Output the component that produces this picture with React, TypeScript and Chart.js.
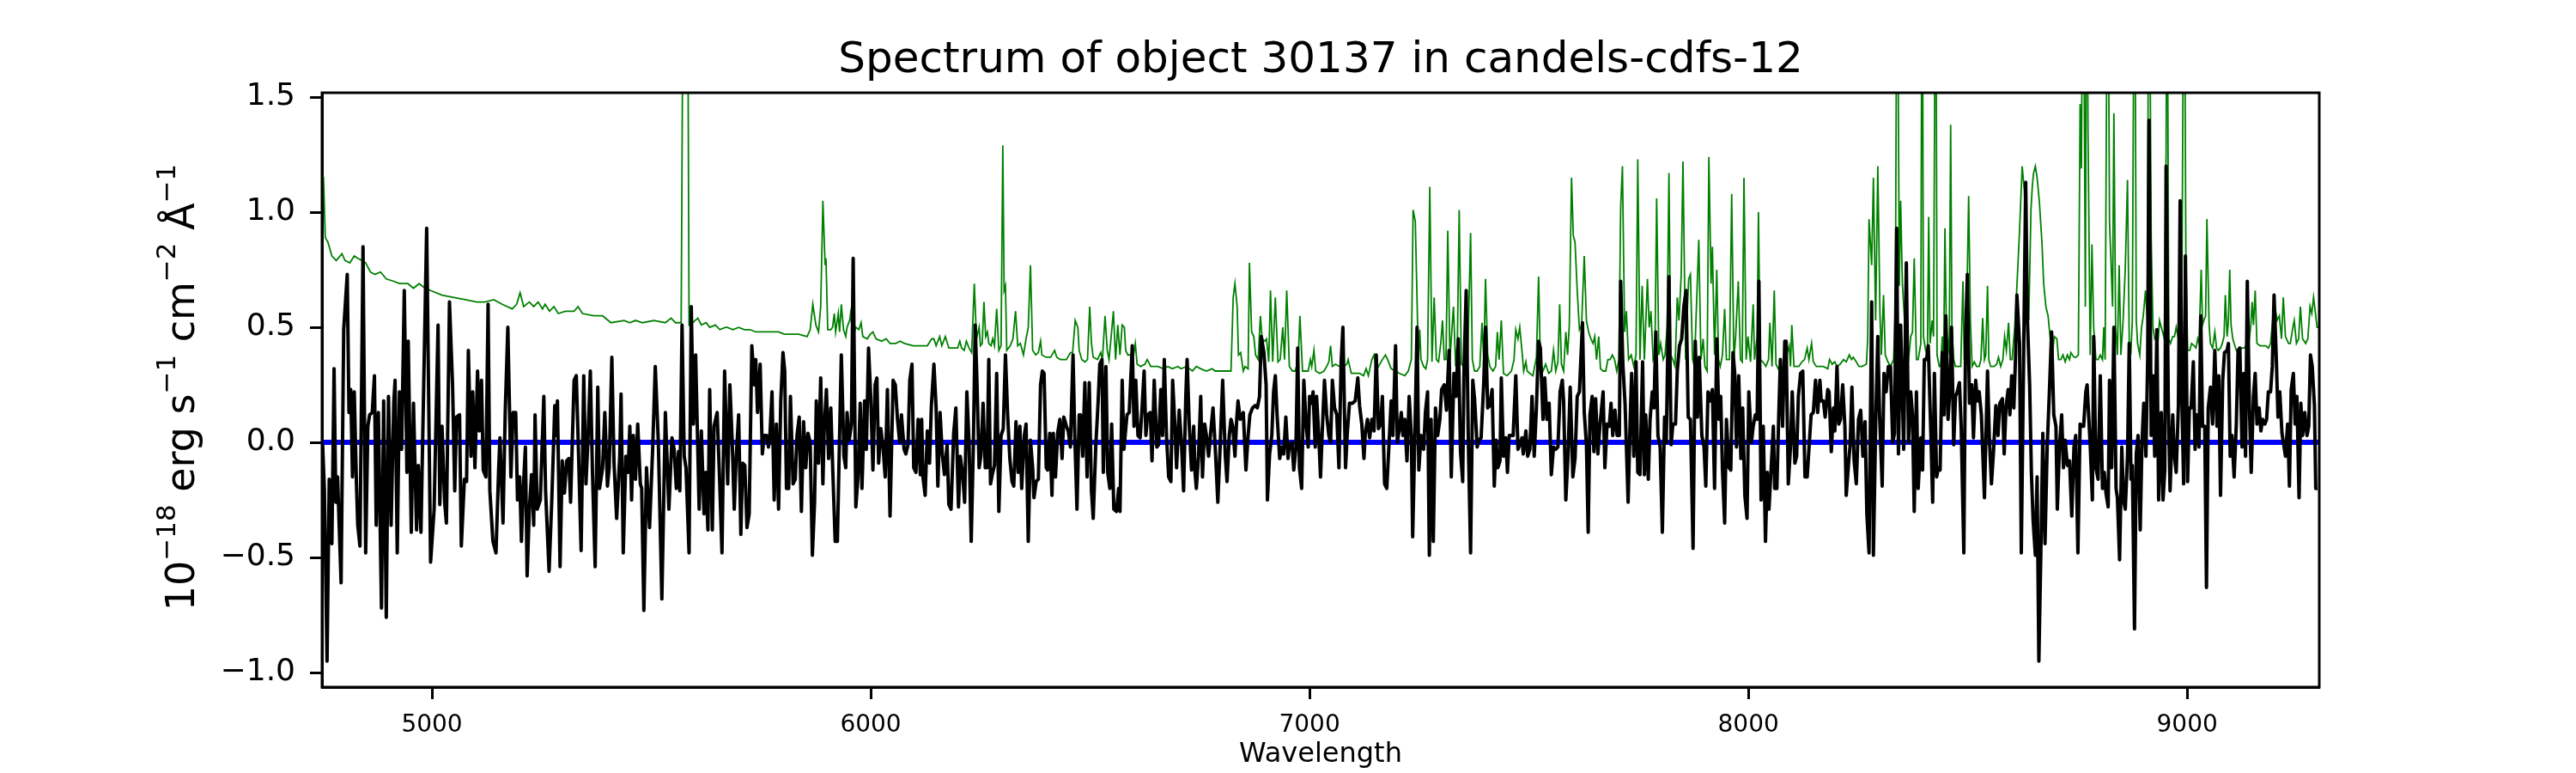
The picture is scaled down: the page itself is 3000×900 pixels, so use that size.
import React, { useEffect, useRef } from 'react';
import { Chart, registerables } from 'chart.js';

Chart.register(...registerables);

const TITLE = 'Spectrum of object 30137 in candels-cdfs-12';
const X_LABEL = 'Wavelength';
// y label pieces: [text, superscript?]
const Y_LABEL_PARTS: [string, boolean][] = [
    ['10', false], ['\u221218', true], [' erg s', false], ['\u22121', true],
    [' cm', false], ['\u22122', true], [' \u00c5', false], ['\u22121', true],
];

const xTicks = [5000, 6000, 7000, 8000, 9000];
const yTicks = [-1.0, -0.5, 0.0, 0.5, 1.0, 1.5];

const X_MIN = 4749.5;
const X_MAX = 9301;
const Y_MIN = -1.063;
const Y_MAX = 1.519;

// [wavelength, flux]
const zeroLevel: [number, number][] = [[4749.5, 0], [9301, 0]];

const fluxSpectrum: [number, number][] = [
    [4751,-0.01],[4755,-0.21],[4761,-0.95],[4766,-0.16],[4772,-0.44],[4777,0.32],[4781,-0.26],[4785,-0.15],[4793,-0.61],[4799,0.49],
    [4807,0.73],[4811,0.13],[4815,0.23],[4819,-0.15],[4823,0.22],[4828,-0.18],[4831,-0.36],[4836,-0.45],[4843,0.85],[4849,-0.48],
    [4854,0.07],[4858,0.12],[4864,0.13],[4869,0.29],[4873,-0.36],[4878,0.13],[4885,-0.72],[4890,0.18],[4896,-0.76],[4901,0.20],
    [4907,-0.36],[4913,0.17],[4916,0.27],[4921,-0.48],[4926,0.22],[4931,-0.03],[4937,0.66],[4943,-0.13],[4946,0.44],[4953,-0.39],
    [4958,0.17],[4965,-0.38],[4969,-0.10],[4975,-0.39],[4988,0.93],[4997,-0.52],[5005,-0.29],[5014,0.51],[5018,-0.27],[5023,0.07],
    [5029,-0.26],[5033,-0.35],[5040,0.61],[5047,0.25],[5052,-0.21],[5056,0.11],[5063,0.12],[5067,-0.45],[5074,-0.16],[5079,-0.17],
    [5083,0.40],[5089,-0.06],[5093,0.22],[5098,-0.11],[5104,0.31],[5108,0.05],[5113,0.27],[5117,-0.12],[5123,-0.15],[5128,0.60],
    [5132,-0.21],[5139,-0.43],[5146,-0.48],[5152,-0.12],[5155,0.02],[5162,-0.35],[5167,0.13],[5173,0.50],[5180,-0.15],[5185,0.13],
    [5191,0.13],[5195,-0.25],[5200,-0.15],[5204,-0.43],[5208,-0.21],[5213,-0.02],[5217,-0.58],[5222,-0.29],[5227,-0.14],[5232,-0.36],
    [5235,0.12],[5240,-0.29],[5247,-0.25],[5255,0.20],[5259,-0.21],[5267,-0.56],[5273,-0.26],[5280,0.16],[5283,0.03],[5286,0.18],
    [5292,-0.54],[5297,-0.08],[5302,-0.22],[5307,-0.08],[5312,-0.07],[5316,-0.26],[5324,0.27],[5329,0.29],[5333,0.03],[5340,-0.47],
    [5346,0.29],[5351,-0.18],[5356,0.03],[5361,0.31],[5366,-0.14],[5372,-0.54],[5378,0.24],[5382,-0.20],[5389,-0.11],[5394,0.13],
    [5400,-0.19],[5404,-0.11],[5410,0.37],[5415,-0.09],[5421,-0.33],[5428,-0.06],[5431,0.21],[5436,-0.48],[5442,-0.06],[5447,-0.13],
    [5451,0.07],[5455,-0.25],[5459,0.03],[5464,-0.16],[5469,0.08],[5475,-0.18],[5478,-0.20],[5483,-0.73],[5489,-0.11],[5496,-0.37],
    [5503,-0.03],[5509,0.33],[5516,0.00],[5524,-0.68],[5532,0.13],[5540,-0.29],[5547,0.02],[5552,-0.03],[5557,-0.20],[5562,-0.04],
    [5565,-0.21],[5570,0.51],[5575,-0.06],[5579,-0.11],[5586,-0.48],[5591,0.59],[5596,0.08],[5601,0.38],[5609,-0.29],[5614,0.05],
    [5620,-0.31],[5624,-0.13],[5629,-0.38],[5633,0.23],[5639,-0.38],[5643,0.07],[5650,0.13],[5655,-0.13],[5661,-0.48],[5667,0.31],
    [5674,-0.18],[5679,0.25],[5684,0.02],[5689,-0.29],[5693,-0.08],[5699,0.12],[5704,-0.40],[5708,-0.09],[5713,-0.10],[5718,-0.37],
    [5723,-0.31],[5729,0.42],[5735,0.25],[5738,0.36],[5742,0.13],[5748,0.34],[5753,-0.05],[5757,0.03],[5763,0.03],[5767,-0.02],
    [5770,0.02],[5775,0.22],[5780,-0.25],[5785,0.08],[5790,-0.29],[5795,0.18],[5800,0.39],[5804,0.31],[5808,-0.20],[5813,-0.20],
    [5817,0.20],[5823,-0.18],[5828,-0.16],[5832,0.03],[5837,0.11],[5842,-0.30],[5847,0.09],[5852,-0.11],[5857,0.04],[5862,0.00],
    [5867,-0.49],[5872,-0.26],[5876,0.18],[5881,-0.09],[5886,0.28],[5891,-0.18],[5894,0.06],[5899,0.23],[5904,-0.07],[5909,0.15],
    [5914,-0.15],[5919,-0.43],[5924,-0.43],[5929,0.03],[5933,0.38],[5939,-0.06],[5943,-0.11],[5946,0.13],[5951,0.01],[5956,0.08],
    [5960,0.80],[5966,-0.28],[5971,-0.15],[5976,0.17],[5980,-0.20],[5986,0.18],[5990,-0.03],[5995,0.41],[6000,0.20],[6005,-0.12],
    [6010,0.25],[6014,0.28],[6018,-0.09],[6023,0.06],[6028,-0.02],[6033,-0.15],[6038,0.23],[6044,-0.32],[6051,0.27],[6056,0.25],
    [6061,0.10],[6066,0.00],[6070,0.12],[6076,-0.03],[6080,-0.05],[6085,-0.01],[6089,0.27],[6094,0.34],[6098,-0.11],[6103,-0.13],
    [6108,0.10],[6113,-0.14],[6116,0.10],[6119,-0.15],[6124,-0.23],[6129,0.05],[6134,-0.09],[6138,0.15],[6144,0.34],[6149,0.15],
    [6153,-0.19],[6158,0.13],[6163,-0.05],[6168,-0.14],[6174,-0.01],[6178,-0.27],[6183,-0.29],[6189,0.04],[6194,0.15],[6200,-0.28],
    [6204,-0.06],[6209,-0.13],[6214,-0.26],[6219,0.22],[6224,0.00],[6229,-0.43],[6234,0.00],[6238,0.51],[6242,0.27],[6247,-0.11],
    [6251,-0.06],[6256,0.17],[6261,-0.11],[6265,-0.11],[6269,0.36],[6273,-0.18],[6277,-0.14],[6282,-0.10],[6287,0.30],[6292,-0.30],
    [6297,0.03],[6302,0.06],[6307,0.38],[6312,0.12],[6317,-0.07],[6322,-0.17],[6326,-0.19],[6331,0.09],[6336,-0.13],[6340,0.07],
    [6344,-0.20],[6350,0.03],[6354,0.08],[6359,-0.43],[6364,0.01],[6369,-0.11],[6372,-0.24],[6377,-0.17],[6382,-0.16],[6387,0.25],
    [6391,0.31],[6395,0.30],[6400,-0.11],[6403,-0.12],[6408,0.04],[6413,-0.23],[6416,0.04],[6421,-0.15],[6426,0.04],[6431,0.10],
    [6436,-0.07],[6440,0.11],[6446,0.07],[6450,0.05],[6455,-0.02],[6461,0.38],[6465,0.03],[6470,-0.29],[6475,0.12],[6478,0.12],
    [6483,-0.06],[6488,0.26],[6493,-0.15],[6498,0.26],[6503,-0.21],[6507,-0.33],[6513,-0.01],[6518,0.17],[6522,0.34],[6527,0.36],
    [6530,-0.13],[6536,0.33],[6540,-0.13],[6545,-0.20],[6549,0.08],[6554,-0.29],[6560,-0.30],[6565,-0.20],[6568,-0.30],[6573,0.27],
    [6577,-0.03],[6584,0.12],[6589,0.13],[6596,0.42],[6600,0.07],[6604,0.27],[6609,0.03],[6614,0.02],[6618,0.14],[6623,0.31],
    [6627,0.03],[6631,0.12],[6637,0.13],[6641,-0.08],[6646,0.27],[6652,-0.02],[6656,-0.01],[6661,0.23],[6665,0.03],[6669,0.36],
    [6674,0.03],[6679,-0.15],[6684,-0.17],[6688,0.27],[6693,0.08],[6697,-0.11],[6703,0.14],[6708,0.00],[6713,-0.21],[6718,0.20],
    [6721,0.36],[6726,0.07],[6731,-0.12],[6736,0.07],[6739,-0.13],[6742,-0.20],[6747,-0.06],[6752,0.20],[6756,-0.15],[6761,0.08],
    [6765,0.03],[6770,-0.06],[6775,0.05],[6780,0.15],[6785,-0.02],[6791,-0.26],[6796,-0.03],[6802,0.27],[6808,-0.06],[6812,-0.17],
    [6817,0.03],[6821,0.10],[6825,0.07],[6830,-0.06],[6834,0.10],[6837,0.18],[6842,0.10],[6849,0.13],[6855,-0.12],[6860,0.03],
    [6864,0.12],[6870,0.15],[6876,0.16],[6881,0.15],[6886,0.20],[6890,0.46],[6896,0.39],[6901,0.25],[6904,-0.25],[6909,-0.05],
    [6914,0.03],[6918,0.22],[6922,0.29],[6926,0.12],[6932,-0.07],[6937,-0.02],[6941,-0.05],[6946,0.11],[6951,-0.07],[6954,-0.01],
    [6960,0.00],[6964,-0.12],[6969,-0.02],[6973,0.41],[6977,-0.11],[6982,-0.20],[6987,0.27],[6992,0.08],[6997,-0.02],[7000,0.20],
    [7005,0.17],[7008,0.22],[7013,-0.02],[7016,0.20],[7021,0.03],[7025,-0.15],[7029,0.05],[7034,0.27],[7039,0.12],[7044,0.03],
    [7048,0.00],[7052,0.27],[7057,0.15],[7062,0.12],[7067,-0.11],[7072,0.35],[7076,0.50],[7082,-0.11],[7086,0.04],[7091,0.17],
    [7098,0.17],[7104,0.18],[7110,0.28],[7114,0.16],[7119,0.08],[7124,-0.07],[7127,0.04],[7132,0.10],[7137,0.02],[7142,0.10],
    [7147,0.05],[7152,0.38],[7157,0.06],[7162,0.08],[7166,0.20],[7171,-0.18],[7176,-0.20],[7181,-0.01],[7186,0.18],[7190,0.03],
    [7196,0.42],[7200,0.00],[7205,0.06],[7209,0.13],[7213,0.03],[7217,0.10],[7222,-0.08],[7227,0.20],[7232,0.03],[7235,-0.41],
    [7240,0.03],[7245,0.50],[7249,-0.12],[7254,0.03],[7260,-0.03],[7264,0.13],[7269,0.22],[7273,-0.49],[7277,0.10],[7282,-0.43],
    [7287,0.15],[7292,0.03],[7297,0.10],[7301,0.23],[7307,0.25],[7312,0.14],[7318,0.40],[7323,-0.15],[7329,0.30],[7334,0.20],
    [7339,0.45],[7344,-0.04],[7349,-0.17],[7352,0.32],[7357,0.66],[7362,-0.01],[7367,-0.48],[7372,0.27],[7376,0.19],[7382,-0.02],
    [7386,0.01],[7391,0.02],[7397,0.26],[7401,0.50],[7406,0.15],[7411,0.16],[7416,0.23],[7421,-0.19],[7425,0.01],[7429,-0.11],
    [7434,-0.08],[7437,0.28],[7442,-0.06],[7447,0.02],[7451,-0.13],[7455,0.03],[7460,0.03],[7464,0.03],[7470,0.29],[7475,-0.03],
    [7479,-0.01],[7484,0.02],[7487,-0.05],[7493,0.05],[7497,-0.06],[7502,-0.03],[7507,0.20],[7512,-0.06],[7517,0.15],[7522,0.44],
    [7526,0.41],[7532,0.10],[7536,0.28],[7541,0.10],[7546,0.17],[7551,-0.14],[7556,-0.02],[7561,-0.03],[7566,-0.02],[7571,0.22],
    [7576,0.27],[7579,0.18],[7584,-0.25],[7589,-0.06],[7594,0.24],[7600,-0.15],[7605,-0.07],[7610,0.20],[7615,0.22],[7622,0.52],
    [7626,0.13],[7631,-0.01],[7635,-0.39],[7639,0.12],[7644,0.20],[7648,-0.04],[7652,0.19],[7657,-0.05],[7662,0.08],[7669,0.22],
    [7673,-0.11],[7678,0.08],[7683,0.07],[7687,0.17],[7691,0.03],[7696,0.14],[7701,0.03],[7706,0.03],[7709,0.70],[7714,0.34],
    [7719,0.17],[7726,-0.26],[7731,0.12],[7734,0.30],[7739,-0.06],[7744,0.35],[7748,-0.13],[7753,-0.14],[7759,0.35],[7763,-0.14],
    [7766,0.12],[7772,-0.16],[7776,0.10],[7781,0.22],[7785,0.15],[7789,0.48],[7794,0.03],[7799,-0.02],[7804,-0.39],[7809,0.11],
    [7813,0.00],[7819,0.72],[7824,-0.01],[7828,0.08],[7834,0.08],[7838,0.31],[7843,0.42],[7848,0.45],[7853,0.59],[7858,0.66],
    [7863,0.11],[7868,0.10],[7874,-0.46],[7879,0.44],[7884,0.11],[7888,0.37],[7894,0.03],[7899,-0.02],[7903,-0.19],[7908,0.22],
    [7913,0.18],[7918,0.23],[7923,-0.20],[7928,0.45],[7933,0.10],[7937,0.20],[7941,-0.12],[7946,-0.35],[7950,0.10],[7956,-0.11],
    [7960,-0.12],[7965,0.39],[7969,0.30],[7973,-0.02],[7978,0.29],[7983,-0.07],[7987,0.15],[7992,-0.23],[7997,-0.33],[8001,0.22],
    [8007,0.00],[8011,0.07],[8016,0.12],[8020,0.10],[8024,0.70],[8029,-0.25],[8034,0.07],[8039,-0.43],[8043,-0.13],[8047,-0.29],
    [8052,-0.11],[8057,0.07],[8060,-0.20],[8065,-0.20],[8069,0.10],[8073,0.36],[8078,0.07],[8083,0.44],[8086,0.44],[8091,-0.18],
    [8096,-0.02],[8100,0.22],[8106,-0.09],[8110,-0.06],[8114,0.20],[8119,0.30],[8124,0.31],[8129,-0.15],[8134,-0.15],[8138,-0.03],
    [8143,0.12],[8148,0.13],[8153,0.27],[8158,0.13],[8163,0.27],[8166,0.18],[8171,0.18],[8175,0.11],[8181,0.23],[8184,0.22],
    [8189,-0.04],[8194,0.15],[8197,0.05],[8202,0.33],[8206,0.08],[8210,0.10],[8215,0.25],[8220,0.07],[8223,-0.23],[8228,-0.10],
    [8232,-0.01],[8236,0.24],[8241,-0.08],[8246,-0.18],[8251,0.10],[8256,0.14],[8261,-0.06],[8266,0.09],[8270,-0.31],[8275,-0.48],
    [8281,0.61],[8285,-0.49],[8290,0.07],[8295,0.46],[8299,0.12],[8305,-0.19],[8309,0.30],[8314,0.22],[8319,0.33],[8324,0.33],
    [8329,0.00],[8333,0.04],[8338,0.93],[8342,-0.05],[8347,0.51],[8354,-0.03],[8360,0.78],[8365,0.00],[8370,0.22],[8374,0.12],
    [8378,-0.30],[8383,0.22],[8387,-0.20],[8393,0.02],[8397,-0.12],[8401,0.36],[8406,0.36],[8410,0.42],[8416,0.03],[8420,-0.26],
    [8424,0.30],[8429,-0.15],[8433,-0.11],[8437,-0.12],[8442,0.39],[8446,0.12],[8450,0.55],[8455,0.10],[8459,0.22],[8463,0.50],
    [8468,-0.01],[8472,0.20],[8476,0.22],[8481,0.26],[8485,0.07],[8491,-0.48],[8495,0.45],[8499,0.73],[8504,0.17],[8509,0.25],
    [8513,0.02],[8518,0.27],[8522,0.18],[8526,0.22],[8531,0.12],[8538,-0.24],[8545,0.31],[8549,0.03],[8554,-0.18],[8559,-0.03],
    [8564,0.16],[8569,0.03],[8573,0.17],[8579,0.19],[8583,-0.05],[8587,0.15],[8592,0.23],[8596,0.12],[8600,0.29],[8605,0.15],
    [8609,0.38],[8612,0.64],[8618,0.43],[8622,-0.48],[8628,0.48],[8632,1.13],[8636,0.53],[8641,0.25],[8645,-0.13],[8649,-0.34],
    [8654,-0.49],[8658,-0.15],[8662,-0.95],[8667,-0.43],[8671,0.04],[8676,-0.44],[8681,-0.02],[8686,0.22],[8691,0.48],[8696,0.12],
    [8701,0.07],[8704,-0.29],[8709,-0.02],[8714,0.12],[8718,-0.11],[8722,0.01],[8727,-0.10],[8732,-0.08],[8737,-0.32],[8742,-0.02],
    [8746,0.03],[8751,-0.48],[8756,0.08],[8760,0.07],[8764,0.07],[8769,0.22],[8772,0.25],[8776,0.10],[8779,-0.01],[8784,-0.25],
    [8787,0.46],[8792,-0.11],[8797,-0.16],[8802,0.29],[8807,-0.20],[8811,-0.13],[8815,-0.22],[8820,-0.28],[8823,0.27],[8828,-0.11],
    [8833,0.50],[8838,-0.20],[8841,-0.24],[8846,-0.51],[8851,-0.02],[8855,-0.25],[8859,-0.29],[8864,-0.06],[8868,0.43],[8872,-0.16],
    [8875,-0.10],[8880,-0.81],[8884,-0.05],[8888,0.03],[8893,-0.38],[8897,0.00],[8901,0.17],[8906,-0.06],[8910,0.36],[8913,1.40],
    [8918,0.03],[8922,0.29],[8926,-0.06],[8931,0.49],[8935,-0.25],[8941,0.13],[8945,-0.25],[8949,-0.12],[8952,1.20],[8957,0.17],
    [8961,-0.21],[8967,0.12],[8971,-0.06],[8975,-0.13],[8980,0.16],[8984,1.05],[8988,0.17],[8992,-0.18],[8996,0.81],[9001,-0.17],
    [9005,0.15],[9009,0.15],[9014,0.35],[9018,-0.03],[9022,0.12],[9027,-0.02],[9031,0.55],[9035,0.07],[9040,0.07],[9044,-0.63],
    [9048,0.15],[9053,0.24],[9058,0.08],[9063,0.40],[9068,0.07],[9072,0.29],[9076,-0.23],[9081,0.27],[9085,0.39],[9091,0.40],
    [9094,0.43],[9098,-0.06],[9102,0.03],[9107,-0.15],[9112,0.08],[9116,0.40],[9120,0.41],[9125,-0.02],[9129,0.30],[9133,-0.06],
    [9137,0.70],[9142,0.14],[9146,-0.13],[9151,0.20],[9155,0.30],[9159,0.08],[9164,0.15],[9168,0.05],[9172,0.10],[9177,0.08],
    [9181,0.10],[9185,0.22],[9190,0.22],[9194,0.33],[9198,0.64],[9203,0.37],[9207,0.11],[9211,0.22],[9216,0.04],[9220,-0.01],
    [9224,-0.06],[9229,0.08],[9233,-0.19],[9237,0.23],[9242,0.30],[9246,0.08],[9250,0.20],[9255,-0.24],[9259,0.17],[9263,0.03],
    [9268,0.13],[9273,0.03],[9277,0.07],[9281,0.38],[9285,0.33],[9290,0.16],[9293,-0.20],[9297,-0.20],
];

// noise spectrum; values above the frame (sky lines) are clipped by the axes
const noiseSpectrum: [number, number][] = [
    [4750,1.15],[4753,1.15],[4757,0.89],[4763,0.87],[4772,0.81],[4782,0.79],[4795,0.82],[4802,0.79],[4813,0.78],[4823,0.81],
    [4831,0.80],[4841,0.79],[4849,0.78],[4860,0.74],[4870,0.73],[4883,0.74],[4896,0.71],[4913,0.70],[4926,0.69],[4945,0.69],
    [4958,0.67],[4971,0.69],[4984,0.67],[4997,0.66],[5023,0.64],[5050,0.63],[5076,0.62],[5102,0.61],[5121,0.61],[5141,0.62],
    [5160,0.60],[5183,0.58],[5193,0.60],[5201,0.65],[5209,0.59],[5222,0.61],[5232,0.59],[5242,0.61],[5252,0.58],[5258,0.60],
    [5268,0.57],[5278,0.59],[5288,0.56],[5304,0.57],[5324,0.57],[5333,0.59],[5343,0.56],[5369,0.55],[5389,0.55],[5408,0.52],
    [5438,0.53],[5451,0.52],[5464,0.53],[5480,0.52],[5506,0.53],[5532,0.52],[5545,0.54],[5555,0.52],[5568,0.52],[5575,3.00],
    [5581,3.00],[5586,0.51],[5594,0.52],[5606,0.54],[5614,0.51],[5625,0.52],[5633,0.50],[5646,0.51],[5656,0.49],[5669,0.50],
    [5673,0.50],[5686,0.49],[5699,0.50],[5712,0.49],[5725,0.49],[5738,0.48],[5751,0.48],[5764,0.48],[5777,0.48],[5790,0.48],
    [5803,0.47],[5823,0.47],[5836,0.47],[5855,0.46],[5862,0.49],[5868,0.60],[5875,0.51],[5881,0.48],[5886,0.59],[5891,1.05],
    [5896,0.77],[5898,0.80],[5902,0.49],[5909,0.49],[5913,0.50],[5917,0.56],[5920,0.48],[5926,0.56],[5929,0.48],[5933,0.60],
    [5938,0.49],[5943,0.46],[5946,0.50],[5952,0.53],[5954,0.56],[5960,0.46],[5966,0.50],[5973,0.49],[5978,0.52],[5982,0.46],
    [5992,0.45],[5999,0.47],[6005,0.48],[6012,0.45],[6025,0.44],[6035,0.45],[6044,0.43],[6057,0.43],[6067,0.44],[6077,0.43],
    [6097,0.42],[6116,0.42],[6129,0.42],[6139,0.45],[6144,0.45],[6149,0.42],[6157,0.46],[6162,0.42],[6170,0.46],[6178,0.41],
    [6188,0.41],[6198,0.41],[6203,0.44],[6207,0.41],[6213,0.40],[6218,0.44],[6224,0.41],[6230,0.39],[6236,0.69],[6241,0.45],
    [6247,0.50],[6250,0.42],[6254,0.43],[6258,0.61],[6262,0.46],[6266,0.48],[6269,0.43],[6274,0.42],[6278,0.45],[6282,0.42],
    [6287,0.58],[6292,0.40],[6297,0.42],[6301,1.29],[6304,0.66],[6307,0.68],[6310,0.40],[6318,0.42],[6324,0.45],[6330,0.57],
    [6335,0.42],[6341,0.43],[6348,0.38],[6354,0.45],[6359,0.50],[6364,0.77],[6369,0.40],[6376,0.38],[6382,0.39],[6387,0.44],
    [6390,0.38],[6400,0.37],[6410,0.37],[6419,0.40],[6424,0.37],[6432,0.36],[6446,0.36],[6455,0.39],[6460,0.39],[6466,0.53],
    [6472,0.50],[6475,0.40],[6481,0.36],[6488,0.35],[6494,0.36],[6499,0.59],[6503,0.43],[6507,0.37],[6517,0.36],[6524,0.39],
    [6528,0.36],[6534,0.55],[6539,0.40],[6543,0.36],[6547,0.44],[6553,0.57],[6558,0.36],[6563,0.51],[6568,0.38],[6573,0.51],
    [6578,0.50],[6581,0.40],[6586,0.38],[6592,0.38],[6599,0.38],[6603,0.43],[6607,0.34],[6615,0.33],[6625,0.34],[6630,0.36],
    [6633,0.35],[6638,0.33],[6645,0.33],[6654,0.33],[6667,0.32],[6677,0.33],[6687,0.32],[6700,0.33],[6707,0.32],[6720,0.33],
    [6733,0.31],[6742,0.33],[6752,0.32],[6765,0.31],[6778,0.32],[6785,0.31],[6795,0.31],[6811,0.31],[6821,0.31],[6826,0.63],
    [6830,0.69],[6835,0.59],[6838,0.38],[6843,0.39],[6849,0.31],[6853,0.33],[6860,0.32],[6863,0.78],[6868,0.48],[6873,0.46],
    [6877,0.38],[6883,0.36],[6888,0.55],[6892,0.45],[6898,0.44],[6902,0.45],[6907,0.35],[6911,0.66],[6916,0.35],[6922,0.63],
    [6928,0.35],[6933,0.36],[6939,0.50],[6943,0.36],[6948,0.66],[6954,0.33],[6961,0.31],[6967,0.31],[6974,0.35],[6978,0.55],
    [6984,0.31],[6990,0.31],[6997,0.31],[7002,0.36],[7005,0.33],[7010,0.40],[7014,0.31],[7023,0.30],[7033,0.31],[7039,0.33],
    [7044,0.35],[7048,0.42],[7052,0.33],[7059,0.34],[7068,0.33],[7078,0.33],[7085,0.34],[7088,0.36],[7095,0.30],[7104,0.30],
    [7114,0.30],[7123,0.29],[7129,0.32],[7134,0.29],[7142,0.36],[7147,0.38],[7152,0.31],[7157,0.33],[7166,0.36],[7173,0.38],
    [7178,0.36],[7186,0.32],[7196,0.31],[7205,0.30],[7217,0.29],[7225,0.31],[7232,0.36],[7236,1.01],[7241,0.96],[7248,0.36],
    [7251,0.49],[7254,0.36],[7260,0.33],[7265,0.32],[7269,0.36],[7274,1.11],[7279,0.35],[7284,0.63],[7289,0.36],[7294,0.35],
    [7299,0.43],[7303,0.53],[7307,0.36],[7311,0.36],[7315,0.92],[7320,0.36],[7323,0.45],[7328,0.59],[7333,0.33],[7337,0.45],
    [7341,1.01],[7346,0.34],[7351,0.33],[7356,0.46],[7360,0.33],[7367,0.91],[7371,0.36],[7376,0.31],[7382,0.31],[7388,0.33],
    [7393,0.52],[7397,0.36],[7401,0.71],[7406,0.38],[7411,0.33],[7418,0.31],[7424,0.33],[7428,0.48],[7432,0.36],[7437,0.53],
    [7442,0.30],[7450,0.29],[7460,0.31],[7466,0.36],[7470,0.49],[7475,0.45],[7479,0.50],[7484,0.40],[7488,0.31],[7493,0.35],
    [7496,0.31],[7502,0.30],[7509,0.29],[7513,0.33],[7517,0.37],[7522,0.72],[7526,0.35],[7532,0.31],[7538,0.34],[7545,0.30],
    [7551,0.31],[7556,0.40],[7561,0.31],[7566,0.35],[7570,0.60],[7574,0.34],[7579,0.31],[7584,0.48],[7588,0.38],[7592,0.51],
    [7597,1.15],[7601,0.90],[7605,0.87],[7610,0.66],[7615,0.49],[7620,0.51],[7626,0.81],[7631,0.53],[7636,0.48],[7641,0.45],
    [7646,0.43],[7650,0.46],[7654,0.36],[7659,0.46],[7663,0.32],[7669,0.31],[7675,0.31],[7680,0.36],[7685,0.36],[7690,0.38],
    [7695,0.36],[7700,0.31],[7705,0.36],[7709,1.02],[7713,1.20],[7718,0.48],[7722,0.57],[7727,0.36],[7733,0.38],[7739,0.33],
    [7744,0.38],[7748,1.23],[7753,0.36],[7758,0.68],[7763,0.36],[7767,0.56],[7770,0.71],[7774,0.50],[7778,0.57],[7783,0.36],
    [7787,0.38],[7791,1.06],[7796,0.38],[7800,0.43],[7806,0.36],[7810,0.38],[7815,0.50],[7819,1.17],[7823,0.38],[7828,0.36],
    [7833,0.33],[7838,0.63],[7842,0.53],[7847,0.73],[7851,1.22],[7857,0.36],[7860,0.53],[7864,0.71],[7868,0.73],[7873,0.36],
    [7877,0.33],[7883,0.66],[7887,0.88],[7892,0.36],[7897,0.45],[7901,0.33],[7906,0.31],[7910,1.24],[7915,0.69],[7918,0.85],
    [7923,0.38],[7928,0.75],[7932,0.36],[7936,0.33],[7941,0.38],[7946,0.58],[7950,0.36],[7957,0.36],[7962,1.08],[7967,0.36],
    [7971,0.46],[7977,0.70],[7982,0.36],[7986,0.35],[7990,1.15],[7995,0.36],[7999,0.46],[8005,0.35],[8011,0.60],[8014,0.36],
    [8020,0.46],[8023,1.00],[8027,0.36],[8033,0.35],[8040,0.33],[8046,0.36],[8049,0.52],[8054,0.33],[8059,0.66],[8063,0.34],
    [8068,0.32],[8073,0.33],[8078,0.31],[8083,0.36],[8087,0.38],[8093,0.42],[8096,0.33],[8099,0.51],[8104,0.33],[8109,0.33],
    [8115,0.33],[8122,0.35],[8128,0.36],[8134,0.41],[8138,0.36],[8144,0.43],[8148,0.35],[8155,0.33],[8161,0.33],[8171,0.33],
    [8181,0.32],[8185,0.36],[8191,0.34],[8197,0.35],[8202,0.33],[8209,0.34],[8217,0.36],[8223,0.35],[8230,0.38],[8235,0.36],
    [8239,0.37],[8246,0.35],[8252,0.33],[8259,0.33],[8269,0.34],[8272,0.45],[8275,0.97],[8281,0.77],[8285,1.15],[8290,0.53],
    [8295,1.20],[8300,0.55],[8303,0.38],[8308,0.64],[8312,0.38],[8318,0.35],[8324,0.33],[8331,0.36],[8335,0.59],[8339,2.50],
    [8344,0.68],[8347,1.05],[8351,0.69],[8356,0.53],[8360,0.38],[8365,0.36],[8370,0.46],[8374,0.48],[8378,0.80],[8383,0.36],
    [8387,0.36],[8393,0.43],[8396,2.50],[8399,0.46],[8404,0.40],[8408,0.38],[8411,0.98],[8414,0.43],[8419,0.53],[8422,0.46],
    [8427,2.50],[8430,0.38],[8435,0.33],[8438,0.33],[8442,0.46],[8445,0.35],[8448,0.93],[8451,0.53],[8455,0.38],[8458,0.46],
    [8461,1.38],[8464,0.48],[8468,0.36],[8472,0.33],[8477,0.33],[8484,0.33],[8489,0.70],[8492,0.36],[8497,0.50],[8502,1.07],
    [8506,0.53],[8510,0.33],[8515,0.35],[8520,0.33],[8526,0.33],[8530,0.36],[8534,0.54],[8538,0.36],[8541,0.38],[8545,0.68],
    [8548,0.36],[8552,0.33],[8560,0.33],[8566,0.34],[8570,0.37],[8575,0.33],[8580,0.36],[8584,0.46],[8588,0.40],[8593,0.52],
    [8597,0.36],[8601,0.36],[8607,0.50],[8611,0.64],[8618,0.92],[8624,1.20],[8629,1.09],[8634,0.81],[8639,0.53],[8644,1.01],
    [8647,1.11],[8650,1.17],[8654,1.20],[8658,1.15],[8663,1.05],[8669,0.87],[8673,0.69],[8678,0.59],[8683,0.55],[8688,0.45],
    [8693,0.38],[8697,0.46],[8703,0.45],[8707,0.36],[8712,0.36],[8717,0.38],[8722,0.35],[8727,0.38],[8732,0.36],[8735,0.39],
    [8742,0.37],[8747,0.37],[8752,0.38],[8756,1.47],[8759,1.19],[8763,2.50],[8768,0.59],[8771,2.50],[8774,1.35],[8779,0.38],
    [8783,0.86],[8787,0.50],[8792,0.36],[8797,0.36],[8802,0.38],[8807,0.36],[8810,0.50],[8813,0.36],[8819,2.50],[8823,0.96],
    [8826,0.81],[8830,0.59],[8833,1.43],[8837,0.50],[8841,0.38],[8845,0.77],[8849,0.38],[8854,0.53],[8859,0.76],[8864,1.14],
    [8868,0.43],[8872,0.40],[8875,0.53],[8880,2.50],[8884,0.53],[8887,0.43],[8892,0.38],[8896,0.50],[8900,0.55],[8905,0.66],
    [8909,0.53],[8913,2.50],[8918,0.89],[8922,0.50],[8926,0.45],[8930,0.46],[8934,0.45],[8937,0.53],[8941,0.50],[8944,0.48],
    [8948,0.45],[8952,1.27],[8954,2.50],[8958,0.45],[8962,0.43],[8967,0.46],[8971,0.46],[8975,0.50],[8980,0.45],[8984,0.89],
    [8988,0.66],[8993,2.50],[8997,0.81],[9001,0.40],[9006,0.40],[9010,0.43],[9016,0.42],[9020,0.41],[9024,0.45],[9027,0.43],
    [9032,0.75],[9035,0.51],[9038,0.53],[9042,0.55],[9045,0.97],[9050,0.51],[9053,0.43],[9058,0.41],[9063,0.48],[9067,0.41],
    [9071,0.40],[9076,0.41],[9080,0.43],[9084,0.46],[9087,0.64],[9091,0.46],[9094,0.53],[9097,0.75],[9100,0.51],[9104,0.45],
    [9107,0.43],[9112,0.40],[9117,0.39],[9120,0.40],[9125,0.41],[9130,0.41],[9134,0.42],[9140,0.42],[9145,0.51],[9148,0.61],
    [9151,0.51],[9155,0.66],[9159,0.43],[9166,0.42],[9172,0.42],[9179,0.42],[9185,0.41],[9190,0.43],[9195,0.53],[9200,0.59],
    [9205,0.53],[9210,0.55],[9215,0.45],[9219,0.63],[9224,0.46],[9231,0.43],[9235,0.43],[9241,0.50],[9244,0.53],[9249,0.43],
    [9254,0.45],[9258,0.59],[9263,0.45],[9270,0.43],[9275,0.45],[9280,0.59],[9284,0.56],[9288,0.63],[9293,0.55],[9296,0.50],
    [9301,0.50],
];

const FONT = '"DejaVu Sans", sans-serif';

const toPoints = (rows: [number, number][]) => rows.map(([x, y]) => ({ x, y }));

// frame, title and axis labels drawn on top of the chart
const frameAndLabels = {
    id: 'frameAndLabels',
    afterDraw(chart: Chart) {
        const { ctx, chartArea: a } = chart;
        ctx.save();
        ctx.strokeStyle = '#000';
        ctx.lineWidth = 3;
        ctx.strokeRect(a.left, a.top, a.right - a.left, a.bottom - a.top);

        const cx = (a.left + a.right) / 2;
        ctx.fillStyle = '#000';
        ctx.textAlign = 'center';
        ctx.textBaseline = 'alphabetic';
        ctx.font = `50px ${FONT}`;
        ctx.fillText(TITLE, cx, a.top - 24);
        ctx.font = `32px ${FONT}`;
        ctx.fillText(X_LABEL, cx, a.bottom + 87);

        // rotated y label with superscripts
        const mainFont = `46px ${FONT}`;
        const supFont = `31px ${FONT}`;
        const widths = Y_LABEL_PARTS.map(([t, sup]) => {
            ctx.font = sup ? supFont : mainFont;
            return ctx.measureText(t).width;
        });
        const total = widths.reduce((s, w) => s + w, 0);
        ctx.translate(226, (a.top + a.bottom) / 2 - 3);
        ctx.rotate(-Math.PI / 2);
        ctx.textAlign = 'left';
        let x = -total / 2;
        Y_LABEL_PARTS.forEach(([t, sup], i) => {
            ctx.font = sup ? supFont : mainFont;
            ctx.fillText(t, x, sup ? -22 : 0);
            x += widths[i];
        });
        ctx.restore();
    },
};

const SpectrumChart: React.FC = () => {
    const canvasRef = useRef<HTMLCanvasElement>(null);
    const chartRef = useRef<Chart | null>(null);

    useEffect(() => {
        const canvas = canvasRef.current;
        if (!canvas) return;

        if (chartRef.current) {
            chartRef.current.destroy();
        }

        chartRef.current = new Chart(canvas, {
            type: 'line',
            data: {
                datasets: [
                    {
                        data: toPoints(fluxSpectrum),
                        borderColor: '#000000',
                        borderWidth: 4,
                        borderJoinStyle: 'round',
                        pointRadius: 0,
                        tension: 0,
                    },
                    {
                        data: toPoints(zeroLevel),
                        borderColor: '#0000ff',
                        borderWidth: 6,
                        pointRadius: 0,
                    },
                    {
                        data: toPoints(noiseSpectrum),
                        borderColor: '#008000',
                        borderWidth: 1.8,
                        pointRadius: 0,
                        tension: 0,
                    },
                ],
            },
            options: {
                animation: false,
                responsive: false,
                devicePixelRatio: 1,
                events: [],
                layout: { padding: { left: 0, right: 299, top: 108, bottom: 0 } },
                plugins: {
                    legend: { display: false },
                    tooltip: { enabled: false },
                    title: { display: false },
                },
                scales: {
                    x: {
                        type: 'linear',
                        min: X_MIN,
                        max: X_MAX,
                        afterBuildTicks: (scale: any) => {
                            scale.ticks = xTicks.map((value) => ({ value }));
                        },
                        afterFit: (scale: any) => {
                            scale.height = 100;
                        },
                        grid: {
                            drawOnChartArea: false,
                            drawTicks: true,
                            tickLength: 14,
                            tickWidth: 3,
                            tickColor: '#000',
                        },
                        border: { display: true, color: '#000', width: 3 },
                        ticks: {
                            color: '#000',
                            font: { family: FONT, size: 28 },
                            padding: 14,
                            maxRotation: 0,
                            autoSkip: false,
                            callback: (v: any) => String(v),
                        },
                    },
                    y: {
                        type: 'linear',
                        min: Y_MIN,
                        max: Y_MAX,
                        afterBuildTicks: (scale: any) => {
                            scale.ticks = yTicks.map((value) => ({ value }));
                        },
                        afterFit: (scale: any) => {
                            scale.width = 375;
                        },
                        grid: {
                            drawOnChartArea: false,
                            drawTicks: true,
                            tickLength: 14,
                            tickWidth: 3,
                            tickColor: '#000',
                        },
                        border: { display: true, color: '#000', width: 3 },
                        ticks: {
                            color: '#000',
                            font: { family: FONT, size: 36 },
                            padding: 17,
                            autoSkip: false,
                            callback: (v: any) => Number(v).toFixed(1).replace('-', '\u2212'),
                        },
                    },
                },
            },
            plugins: [frameAndLabels],
        });

        return () => {
            if (chartRef.current) {
                chartRef.current.destroy();
                chartRef.current = null;
            }
        };
    }, []);

    return (
        <canvas
            ref={canvasRef}
            width={3000}
            height={900}
            style={{ position: 'absolute', left: 0, top: 0, width: '3000px', height: '900px' }}
        />
    );
};

export default function App() {
    return <SpectrumChart />;
}
